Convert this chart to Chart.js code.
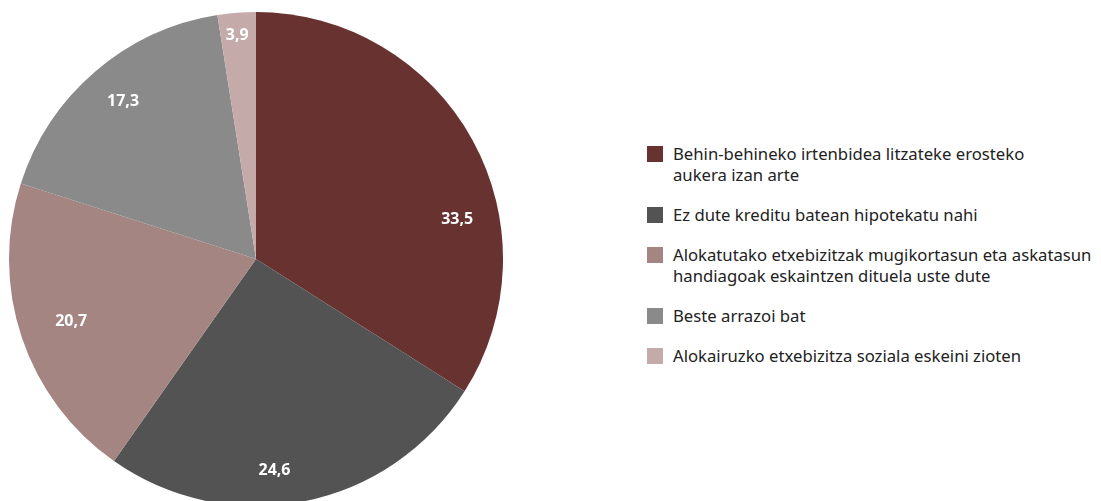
<!DOCTYPE html>
<html>
<head>
<meta charset="utf-8">
<script src="https://cdn.jsdelivr.net/npm/chart.js@4/dist/chart.umd.min.js"></script>
<style>
    html, body { margin: 0; padding: 0; background: #fff; overflow: hidden; }
    body { width: 1101px; height: 501px; position: relative; font-family: "Noto Sans", sans-serif; }
    #pieBox { position: absolute; left: 9px; top: 12px; width: 494px; height: 494px; }
    #legend { position: absolute; left: 647px; top: 143px; width: 454px; color: #222; font-size: 16.7px; }
    .item { display: flex; align-items: flex-start; margin-bottom: 19px; line-height: 21px; }
    .box { width: 16px; height: 16px; flex: none; margin-top: 3px; margin-right: 10px; }
    .txt { white-space: pre-line; }
</style>
</head>
<body>
<div id="pieBox"><canvas id="pie"></canvas></div>
<div id="legend"></div>
<script>
const categories = [
    'Behin-behineko irtenbidea litzateke erosteko\naukera izan arte',
    'Ez dute kreditu batean hipotekatu nahi',
    'Alokatutako etxebizitzak mugikortasun eta askatasun\nhandiagoak eskaintzen dituela uste dute',
    'Beste arrazoi bat',
    'Alokairuzko etxebizitza soziala eskeini zioten'
];
// printed values
const valueText = ['33,5', '24,6', '20,7', '17,3', '3,9'];
// wedge sizes as drawn in the original picture
const shares = [34.0, 25.75, 20.2, 17.55, 2.5];
const colors = ['#673230', '#535353', '#a48582', '#8a8a8a', '#c4aaa8'];

// small nudges so the value labels sit where the original puts them
const labelTurn = [17.75, 6.25, -0.2, 0.5, -0.3];
const labelDist = [0.83, 0.86, 0.79, 0.836, 0.91];

const valueLabels = {
    id: 'valueLabels',
    afterDatasetsDraw(chart) {
        const ctx = chart.ctx;
        const meta = chart.getDatasetMeta(0);
        ctx.save();
        ctx.fillStyle = '#fff';
        ctx.font = 'bold 16px "Noto Sans", sans-serif';
        ctx.textAlign = 'center';
        ctx.textBaseline = 'middle';
        meta.data.forEach((arc, i) => {
            const mid = (arc.startAngle + arc.endAngle) / 2 + labelTurn[i] * Math.PI / 180;
            const r = arc.outerRadius * labelDist[i];
            ctx.fillText(valueText[i], arc.x + Math.cos(mid) * r, arc.y + Math.sin(mid) * r);
        });
        ctx.restore();
    }
};

new Chart(document.getElementById('pie'), {
    type: 'pie',
    data: {
        labels: categories,
        datasets: [{
            data: shares,
            backgroundColor: colors,
            borderWidth: 0
        }]
    },
    options: {
        responsive: true,
        maintainAspectRatio: false,
        animation: false,
        layout: { padding: 0 },
        plugins: {
            legend: { display: false },
            tooltip: { enabled: false }
        }
    },
    plugins: [valueLabels]
});

const legend = document.getElementById('legend');
categories.forEach((c, i) => {
    const item = document.createElement('div');
    item.className = 'item';
    item.innerHTML = '<span class="box" style="background:' + colors[i] + '"></span><span class="txt"></span>';
    item.querySelector('.txt').textContent = c;
    legend.appendChild(item);
});
</script>
</body>
</html>
